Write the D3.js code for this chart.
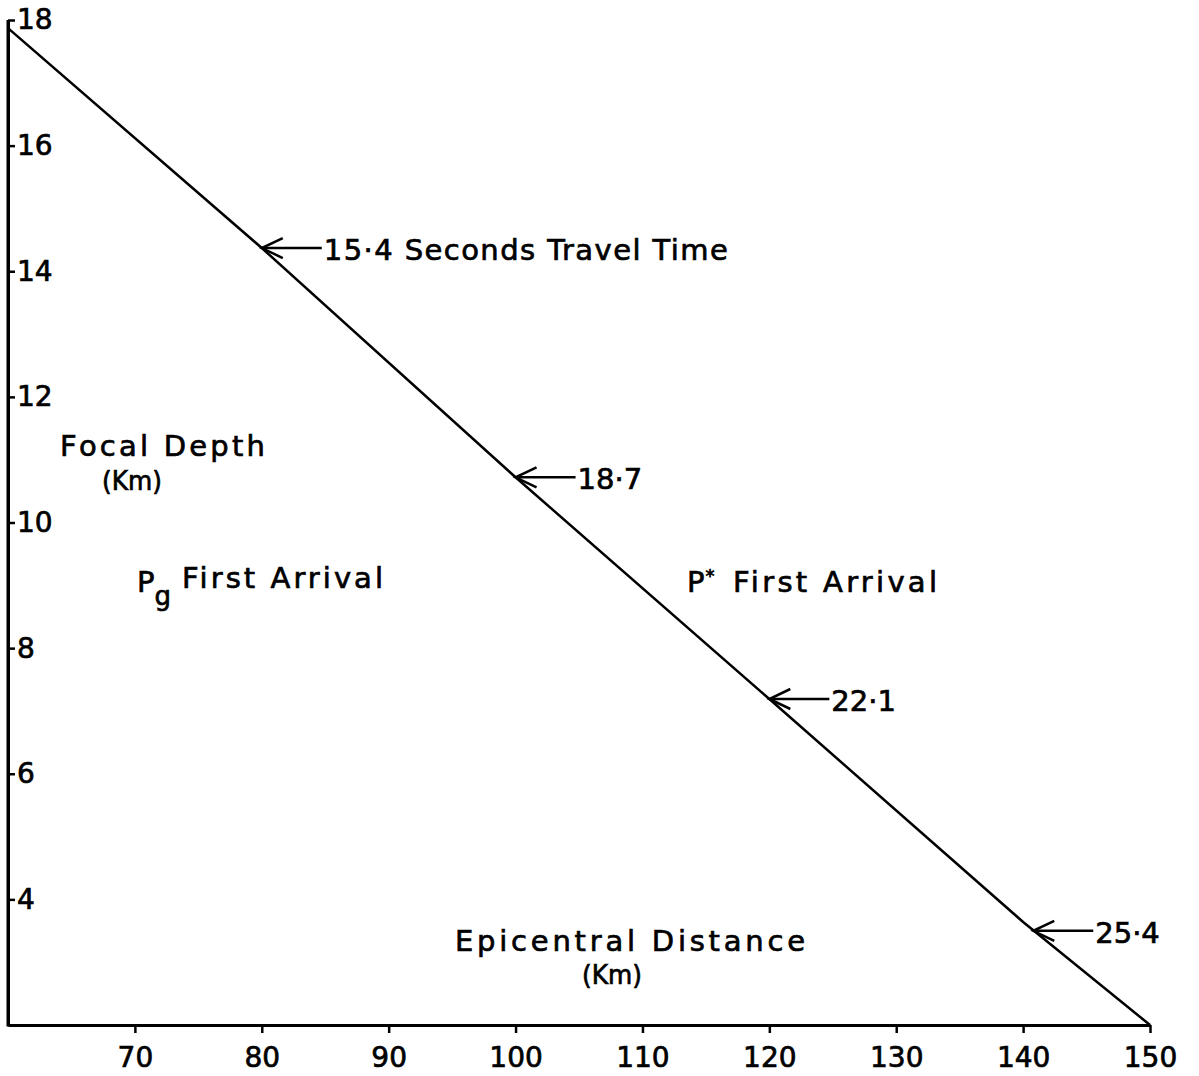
<!DOCTYPE html>
<html><head><meta charset="utf-8">
<script src="https://cdn.jsdelivr.net/npm/d3@7"></script>
<style>body{margin:0;background:#fff}svg{display:block}text{font-family:"DejaVu Sans",sans-serif;fill:#000;stroke:#000;stroke-width:0.7px}</style>
</head><body>
<script>
// Data
const xTicks = [70, 80, 90, 100, 110, 120, 130, 140, 150];
const yTicks = [4, 6, 8, 10, 12, 14, 16, 18];
const lineDistance = [60, 80, 100, 120, 140, 150];        // epicentral distance (km)
const lineDepth = [17.87, 14.37, 10.72, 7.19, 3.64, 2.0];  // focal depth (km)
const arrowDistance = [80, 100, 120, 140.8];
const arrowDepth = [14.37, 10.72, 7.19, 3.5];
const arrowLabels = ["15\u00b74 Seconds Travel Time", "18\u00b77", "22\u00b71", "25\u00b74"];

const W = 1199, H = 1076;
const svg = d3.select("body").append("svg").attr("width", W).attr("height", H);
const x = d3.scaleLinear().domain([60, 150]).range([8, 1150]);
const y = d3.scaleLinear().domain([2, 18]).range([1025, 20]);

// axes
const yAxis = svg.append("g").attr("transform", `translate(${x(60)},0)`)
  .call(d3.axisRight(y).tickValues(yTicks).tickSize(7).tickSizeOuter(0).tickPadding(2).tickFormat(d3.format("d")));
const xAxis = svg.append("g").attr("transform", `translate(0,${y(2)})`)
  .call(d3.axisBottom(x).tickValues(xTicks).tickSize(8).tickSizeOuter(0).tickPadding(14).tickFormat(d3.format("d")));
[yAxis, xAxis].forEach(g => {
  g.select(".domain").attr("stroke", "#000").attr("stroke-width", 3);
  g.selectAll(".tick line").attr("stroke", "#000").attr("stroke-width", 2.5);
  g.selectAll(".tick text").attr("font-size", 28).attr("font-family", "DejaVu Sans").attr("fill", "#000");
});
// join axes corner
svg.append("line").attr("x1", x(60)).attr("x2", x(60)).attr("y1", y(18)).attr("y2", y(2) + 1.5)
  .attr("stroke", "#000").attr("stroke-width", 3);

// diagonal line
const pts = lineDistance.map((d, i) => [d, lineDepth[i]]);
svg.append("path").datum(pts)
  .attr("d", d3.line().x(d => x(d[0])).y(d => y(d[1])))
  .attr("fill", "none").attr("stroke", "#000").attr("stroke-width", 2.5);

// arrows + labels
arrowDistance.forEach((d, i) => {
  const tx = x(d), ty = y(arrowDepth[i]);
  const g = svg.append("g");
  g.append("line").attr("x1", tx).attr("y1", ty).attr("x2", tx + 60).attr("y2", ty)
    .attr("stroke", "#000").attr("stroke-width", 2.5);
  g.append("path").attr("d", `M${tx + 21},${ty - 10} L${tx},${ty} L${tx + 21},${ty + 10}`)
    .attr("fill", "none").attr("stroke", "#000").attr("stroke-width", 2.5);
  const t = g.append("text").attr("x", tx + 62).attr("y", ty + 12).attr("font-size", 29).text(arrowLabels[i]);
  if (i === 0) t.attr("textLength", 404).attr("lengthAdjust", "spacing");
});

// annotations
function label(txt, xx, yy, len, size, adj) {
  const t = svg.append("text").attr("x", xx).attr("y", yy).attr("font-size", size || 29).text(txt);
  if (len) t.attr("textLength", len).attr("lengthAdjust", adj || "spacing");
  return t;
}
label("Focal Depth", 60, 456, 205);
label("(Km)", 102, 490, 60, 26, "spacingAndGlyphs");
// Pg First Arrival
const pg = svg.append("text").attr("x", 137).attr("y", 592).attr("font-size", 29);
pg.append("tspan").text("P");
pg.append("tspan").attr("font-size", 26).attr("dy", 13).text("g");
label("First Arrival", 182, 588, 201);
// P* First Arrival
const ps = svg.append("text").attr("x", 687).attr("y", 592).attr("font-size", 29);
ps.append("tspan").text("P");
ps.append("tspan").attr("font-size", 18).attr("dy", -10).attr("dx", 1).text("*");
label("First Arrival", 733, 592, 204);
label("Epicentral  Distance", 455, 951, 350);
label("(Km)", 582, 984, 60, 26, "spacingAndGlyphs");
</script>
</body></html>
